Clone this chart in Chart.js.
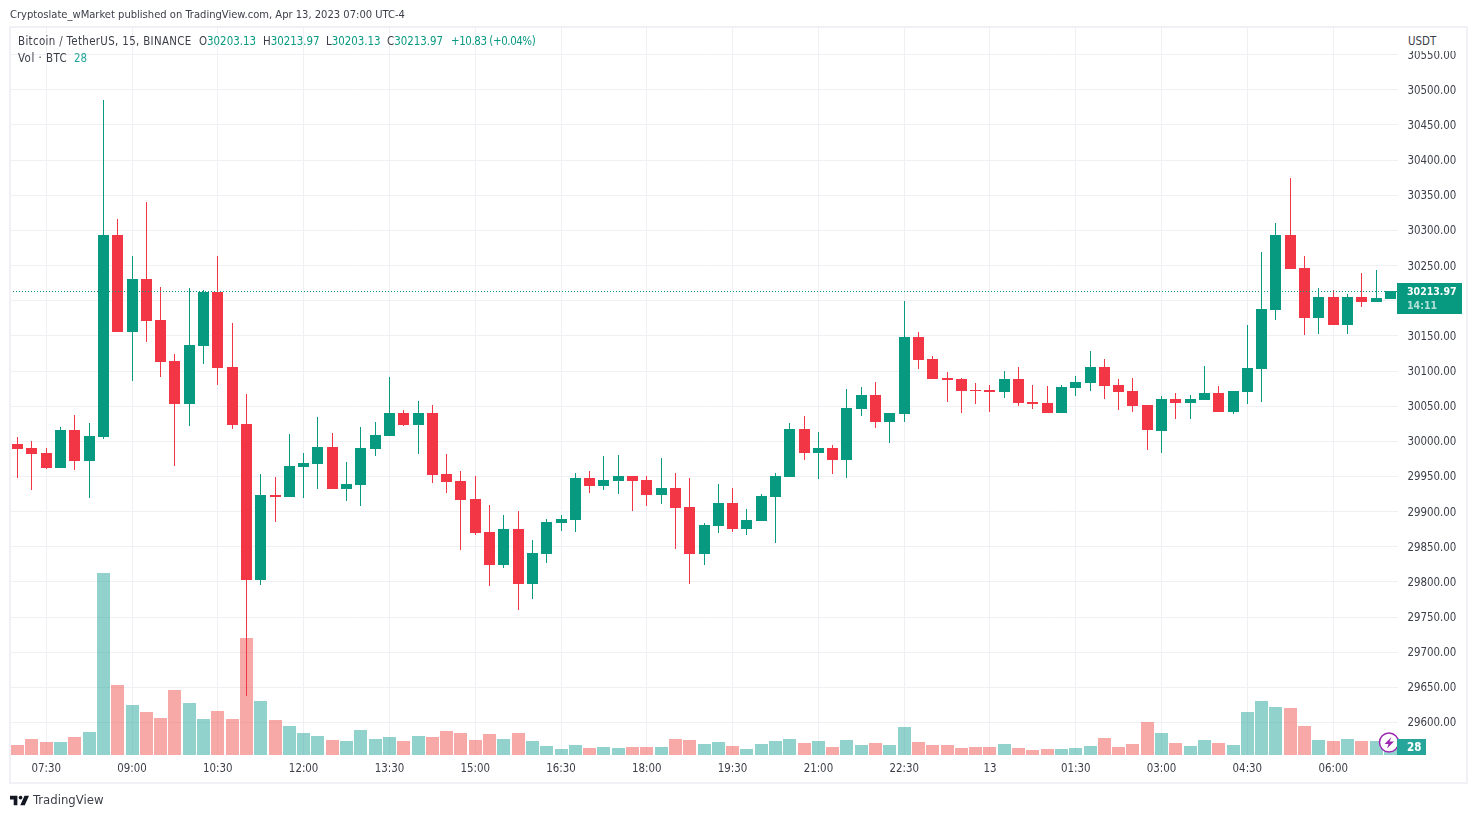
<!DOCTYPE html>
<html>
<head>
<meta charset="utf-8">
<title>BTCUSDT</title>
<script src="https://cdn.jsdelivr.net/npm/chart.js@4"></script>
<style>
  html, body { margin: 0; background: #fff; }
  body { width: 1477px; height: 818px; position: relative; overflow: hidden; font-family: "DejaVu Sans Condensed", "DejaVu Sans", sans-serif; font-size: 11.4px; color: #3b3e48; }
  canvas { position: absolute; left: 0; top: 0; }
  .t { position: absolute; white-space: nowrap; line-height: 14px; }
  .g { color: #089981; }
  #frame { position: absolute; left: 9px; top: 26px; width: 1459px; height: 758px; box-sizing: border-box; border: 2px solid #f0f0f6; }
  #unit { position: absolute; left: 1398px; top: 28px; width: 68px; height: 23px; background: #fff; }
</style>
</head>
<body>
<canvas id="chart" width="1477" height="818"></canvas>
<div id="frame"></div>
<div id="unit"></div>
<div class="t" style="left:10px;top:8px;font-size:11.1px">Cryptoslate_wMarket published on TradingView.com, Apr 13, 2023 07:00 UTC-4</div>
<div class="t" style="left:18px;top:34px;letter-spacing:0.35px">Bitcoin / TetherUS, 15, BINANCE</div>
<div class="t" style="left:199px;top:34px">O<span class="g">30203.13</span></div>
<div class="t" style="left:263px;top:34px">H<span class="g">30213.97</span></div>
<div class="t" style="left:326px;top:34px">L<span class="g">30203.13</span></div>
<div class="t" style="left:387px;top:34px">C<span class="g">30213.97</span></div>
<div class="t g" style="left:451px;top:34px;letter-spacing:-0.4px">+10.83 (+0.04%)</div>
<div class="t" style="left:18px;top:51px;letter-spacing:0.5px">Vol · BTC</div>
<div class="t" style="left:74px;top:51px;color:#26a69a">28</div>
<div class="t" style="left:1408px;top:34px">USDT</div>
<svg style="position:absolute;left:10px;top:795px" width="19" height="11" viewBox="0 7 36 18"><path fill="#131722" d="M14 25H7V14H0V7h14v18zM28 25h-8.5L27.5 7H36l-8 18z"/><circle fill="#131722" cx="20" cy="10.5" r="3.5"/></svg>
<div class="t" style="left:33px;top:793px;font-size:13px">TradingView</div>

<script>
// Price data, 15 minute candles
const opens = [29996.2,29990.5,29983.4,29962.0,30016.1,29972.0,30006.1,30293.5,30155.5,30230.9,30172.6,30114.2,30053.1,30135.6,30212.4,30105.7,30024.6,29802.7,29923.6,29920.8,
  29963.4,29967.7,29991.9,29932.1,29937.8,29989.0,30007.5,30040.3,30023.2,30040.3,29953.5,29943.5,29917.9,29871.0,29824.0,29875.2,29797.0,29839.7,29883.8,29888.0,
  29947.8,29936.4,29943.5,29950.6,29944.9,29923.6,29933.6,29906.5,29839.7,29879.5,29912.2,29875.2,29886.6,29920.8,29949.2,30017.5,29983.4,29990.5,29973.4,30046.0,
  30065.9,30027.5,30038.8,30148.4,30117.1,30090.1,30088.6,30073.0,30073.0,30070.1,30088.6,30055.9,30054.5,30040.3,30075.8,30082.9,30105.7,30080.1,30071.6,30051.6,
  30014.7,30060.2,30054.5,30058.8,30068.7,30041.7,30070.1,30102.9,30186.8,30293.5,30246.6,30175.4,30205.3,30165.5,30205.3,30198.2,30203.13];
const highs = [30006.1,30000.4,29990.5,30020.3,30037.4,30026.0,30485.6,30316.3,30263.6,30340.5,30219.5,30124.2,30218.1,30215.3,30263.6,30168.3,30067.3,29953.5,29949.2,30010.4,
  29983.4,30034.6,30011.8,29970.6,30020.3,30027.5,30091.5,30044.5,30057.3,30051.6,29981.9,29957.7,29950.6,29909.4,29895.1,29900.8,29859.6,29889.5,29895.1,29954.9,
  29957.7,29979.1,29980.5,29950.6,29950.6,29976.2,29954.9,29947.8,29883.8,29939.3,29933.6,29903.7,29925.0,29954.9,30026.0,30036.0,30013.2,29994.7,30074.4,30077.3,
  30084.4,30040.3,30199.6,30155.5,30121.4,30098.6,30090.1,30082.9,30080.1,30100.0,30105.7,30080.1,30078.7,30080.1,30092.9,30128.5,30117.1,30088.6,30090.1,30051.6,
  30064.4,30068.7,30065.9,30107.1,30078.7,30071.6,30165.5,30269.3,30310.6,30374.6,30263.6,30218.1,30215.3,30209.6,30239.4,30243.7,30213.97];
const lows = [29947.8,29930.7,29960.6,29962.0,29959.2,29919.3,30003.3,30155.5,30085.8,30141.3,30091.5,29964.9,30021.8,30110.0,30080.1,30017.5,29637.6,29795.6,29885.2,29920.8,
  29919.3,29932.1,29932.1,29915.1,29908.0,29979.1,30007.5,30021.8,29981.9,29940.7,29926.4,29845.4,29866.7,29794.1,29819.7,29760.0,29775.6,29826.9,29872.4,29871.0,
  29926.4,29930.7,29925.0,29900.8,29908.0,29910.8,29846.8,29797.0,29824.0,29869.5,29871.0,29866.7,29886.6,29855.3,29949.2,29973.4,29946.4,29953.5,29947.8,30036.0,
  30018.9,29997.6,30027.5,30102.9,30088.6,30055.9,30040.3,30053.1,30041.7,30061.6,30050.2,30046.0,30040.3,30040.3,30064.4,30071.6,30060.2,30044.5,30041.7,29987.6,
  29983.4,30031.7,30031.7,30058.8,30041.7,30038.8,30053.1,30055.9,30172.6,30245.1,30151.2,30152.7,30165.5,30152.7,30191.1,30198.2,30203.13];
const closes = [29989.0,29981.9,29962.0,30016.1,29972.0,30007.5,30293.5,30155.5,30230.9,30171.2,30112.8,30053.1,30137.0,30212.4,30104.3,30023.2,29802.7,29923.6,29920.8,29964.9,
  29969.1,29991.9,29932.1,29939.3,29990.5,30009.0,30040.3,30023.2,30040.3,29952.1,29942.1,29916.5,29869.5,29824.0,29875.2,29797.0,29841.1,29885.2,29889.5,29947.8,
  29936.4,29944.9,29950.6,29943.5,29923.6,29933.6,29905.1,29839.7,29880.9,29912.2,29875.2,29888.0,29922.2,29950.6,30017.5,29983.4,29990.5,29973.4,30047.4,30065.9,
  30027.5,30040.3,30148.4,30115.7,30088.6,30087.2,30071.6,30071.6,30070.1,30088.6,30054.5,30053.1,30040.3,30077.3,30084.4,30105.7,30078.7,30070.1,30050.2,30016.1,
  30060.2,30054.5,30060.2,30068.7,30041.7,30071.6,30104.3,30188.2,30293.5,30245.1,30175.4,30205.3,30165.5,30205.3,30198.2,30203.9,30213.97];
const volumes = [35,56,46,46,63,80,637,245,175,150,130,228,182,126,154,126,410,189,122,102,
  77,66,52,49,88,56,63,49,66,63,84,77,52,74,56,77,49,32,21,35,
  25,28,25,28,28,28,56,52,38,46,32,21,38,49,56,42,49,28,52,35,
  42,35,98,46,35,35,25,28,28,38,25,18,21,21,25,32,60,28,38,116,
  77,42,32,52,42,35,150,189,168,164,102,52,49,56,49,49,28];

const tickLabels = ['07:30','09:00','10:30','12:00','13:30','15:00','16:30','18:00','19:30','21:00','22:30','13','01:30','03:00','04:30','06:00'];

// 15 minute slots starting 07:00, the midnight slot is shown as the date
const categories = opens.map(function(o, i) {
  const m = (7 * 60 + i * 15) % 1440;
  if (m === 0) return '13';
  return String(Math.floor(m / 60)).padStart(2, '0') + ':' + String(m % 60).padStart(2, '0');
});

const upColor = '#089981', downColor = '#f23645',
  volUpColor = 'rgba(38,166,154,0.5)', volDownColor = 'rgba(239,83,80,0.5)',
  gridColor = '#f0f0f4', labelColor = '#3b3e48',
  fontName = '"DejaVu Sans Condensed", "DejaVu Sans", sans-serif';

const isUp = closes.map(function(c, i) { return c >= opens[i]; });
const lastClose = closes[closes.length - 1], lastVolume = volumes[volumes.length - 1];

// line the bars up on whole pixels, the way the original is drawn
const snapBars = {
  id: 'snapBars',
  beforeDatasetsDraw(chart) {
    chart.data.datasets.forEach(function(ds, d) {
      chart.getDatasetMeta(d).data.forEach(function(el) {
        el.x = Math.floor(el.x) + 0.5;
        el.y = Math.round(el.y);
        el.base = Math.round(el.base);
      });
    });
  }
};

const lastPriceLine = {
  id: 'lastPriceLine',
  afterDatasetsDraw(chart) {
    const ctx = chart.ctx, a = chart.chartArea;
    const y = Math.round(chart.scales.y.getPixelForValue(lastClose)) + 0.5;
    ctx.save();
    ctx.strokeStyle = upColor;
    ctx.lineWidth = 1;
    ctx.setLineDash([1, 2]);
    ctx.beginPath();
    ctx.moveTo(Math.floor(a.left), y);
    ctx.lineTo(Math.ceil(a.right), y);
    ctx.stroke();
    ctx.restore();
  }
};

// price and volume tags on the axis, plus the small bolt marker
const axisTags = {
  id: 'axisTags',
  afterDraw(chart) {
    const ctx = chart.ctx, right = Math.floor(chart.chartArea.right);
    const py = Math.round(chart.scales.y.getPixelForValue(lastClose));
    const vy = Math.round(chart.scales.yVol.getPixelForValue(lastVolume));
    ctx.save();

    ctx.fillStyle = '#fff';
    ctx.beginPath();
    ctx.arc(1389, 742.5, 10, 0, Math.PI * 2);
    ctx.fill();
    ctx.strokeStyle = '#9c27b0';
    ctx.lineWidth = 1.5;
    ctx.beginPath();
    ctx.arc(1389, 742.5, 9.5, 0, Math.PI * 2);
    ctx.stroke();
    ctx.fillStyle = '#9c27b0';
    ctx.beginPath();
    ctx.moveTo(1391.5, 737);
    ctx.lineTo(1384.5, 744);
    ctx.lineTo(1388.5, 744);
    ctx.lineTo(1387, 748.5);
    ctx.lineTo(1394, 741.5);
    ctx.lineTo(1389.5, 741.5);
    ctx.closePath();
    ctx.fill();

    ctx.fillStyle = upColor;
    ctx.fillRect(right, py - 8, 65, 31);
    ctx.fillStyle = '#26a69a';
    ctx.fillRect(right, vy - 8, 29, 16);

    ctx.textBaseline = 'middle';
    ctx.textAlign = 'left';
    ctx.fillStyle = '#fff';
    ctx.font = 'bold 10.5px ' + fontName;
    ctx.fillText(lastClose.toFixed(2), right + 10, py + 1.5);
    ctx.fillStyle = '#b5e0d9';
    ctx.fillText('14:11', right + 10, py + 15.5);
    ctx.fillStyle = '#fff';
    ctx.font = 'bold 11.5px ' + fontName;
    ctx.fillText(String(lastVolume), right + 10, vy + 1);
    ctx.restore();
  }
};

new Chart(document.getElementById('chart'), {
  type: 'bar',
  plugins: [snapBars, lastPriceLine, axisTags],
  data: {
    labels: categories,
    datasets: [
      {
        label: 'Body',
        data: opens.map(function(o, i) { return [o, closes[i]]; }),
        backgroundColor: isUp.map(function(u) { return u ? upColor : downColor; }),
        barThickness: 11,
        inflateAmount: 0,
        yAxisID: 'y',
        order: 1
      },
      {
        label: 'Wick',
        data: lows.map(function(l, i) { return [l, highs[i]]; }),
        backgroundColor: isUp.map(function(u) { return u ? upColor : downColor; }),
        barThickness: 1,
        inflateAmount: 0,
        yAxisID: 'y',
        order: 2
      },
      {
        label: 'Vol',
        data: volumes,
        backgroundColor: isUp.map(function(u) { return u ? volUpColor : volDownColor; }),
        barThickness: 13,
        inflateAmount: 0,
        yAxisID: 'yVol',
        order: 3
      }
    ]
  },
  options: {
    responsive: false,
    animation: false,
    devicePixelRatio: 1,
    layout: { padding: { left: 10.5, right: 9.5, top: 27, bottom: 35 } },
    datasets: { bar: { grouped: false } },
    plugins: { legend: { display: false }, tooltip: { enabled: false } },
    scales: {
      x: {
        offset: true,
        grid: { offset: false, color: gridColor, drawTicks: false },
        border: { display: false },
        afterBuildTicks: function(axis) {
          axis.ticks = axis.ticks.filter(function(t) { return tickLabels.includes(categories[t.value]); });
        },
        afterFit: function(axis) { axis.height = 28; },
        ticks: { autoSkip: false, maxRotation: 0, padding: 7, color: labelColor, font: { family: fontName, size: 11.4 } }
      },
      y: {
        position: 'right',
        min: 29553.7,
        max: 30589.4,
        grid: { color: gridColor, drawTicks: false },
        border: { display: false },
        afterFit: function(axis) { axis.width = 70; },
        ticks: {
          stepSize: 50,
          includeBounds: false,
          autoSkip: false,
          padding: 10,
          labelOffset: 1,
          color: labelColor,
          font: { family: fontName, size: 11.4 },
          callback: function(v) { return v.toFixed(2); }
        }
      },
      yVol: {
        display: false,
        min: 0,
        max: 2548
      }
    }
  }
});
</script>
</body>
</html>
